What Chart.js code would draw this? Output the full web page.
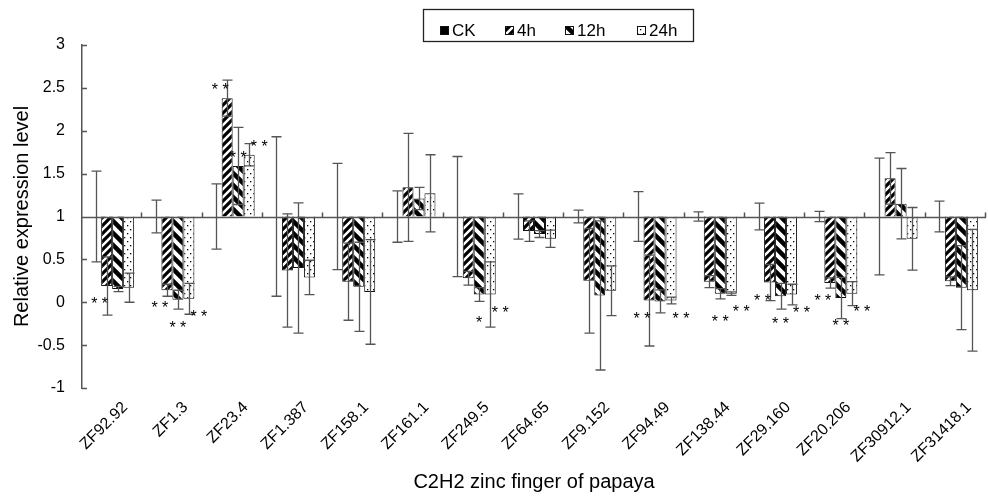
<!DOCTYPE html>
<html>
<head>
<meta charset="utf-8">
<script src="https://cdn.jsdelivr.net/npm/chart.js@4.4.1/dist/chart.umd.min.js"></script>
<style>
  body { margin: 0; background: #fff; }
  #wrap { width: 988px; height: 496px; }
</style>
</head>
<body>
<div id="wrap"><canvas id="chart" width="988" height="496"></canvas></div>
<script>
// genes on the x axis
var genes = ['ZF92.92', 'ZF1.3', 'ZF23.4', 'ZF1.387', 'ZF158.1', 'ZF161.1', 'ZF249.5',
  'ZF64.65', 'ZF9.152', 'ZF94.49', 'ZF138.44', 'ZF29.160', 'ZF20.206', 'ZF30912.1', 'ZF31418.1'];

// relative expression (CK = 1) and standard deviations
var ck    = [1, 1, 1, 1, 1, 1, 1, 1, 1, 1, 1, 1, 1, 1, 1];
var ckSd  = [0.53, 0.19, 0.38, 0.93, 0.62, 0.30, 0.70, 0.265, 0.075, 0.29, 0.055, 0.155, 0.06, 0.68, 0.18];

var h4    = [0.19, 0.14, 2.38, 0.37, 0.24, 1.34, 0.28, 0.83, 0.25, 0.02, 0.24, 0.23, 0.225, 1.445, 0.245];
var h4Sd  = [0.34, 0.07, 0.21, 0.66, 0.45, 0.63, 0.08, 0.12, 0.61, 0.53, 0.07, 0.21, 0.06, 0.30, 0.05];

var h12   = [0.155, 0.03, 1.59, 0.40, 0.18, 1.21, 0.09, 0.795, 0.08, 0.01, 0.10, 0.07, 0.05, 1.15, 0.17];
var h12Sd = [0.03, 0.11, 0.45, 0.76, 0.52, 0.13, 0.08, 0.04, 0.87, 0.135, 0.06, 0.15, 0.24, 0.41, 0.49];

var h24   = [0.17, 0.04, 1.72, 0.29, 0.12, 1.27, 0.09, 0.74, 0.135, 0.02, 0.10, 0.09, 0.10, 0.74, 0.14];
var h24Sd = [0.17, 0.18, 0.13, 0.20, 0.61, 0.45, 0.38, 0.10, 0.29, 0.04, 0.02, 0.12, 0.14, 0.365, 0.71];

// significance marks
var ckStars  = ['', '', '', '', '', '', '', '', '', '', '', '', '', '', ''];
var h4Stars  = ['**', '**', '**', '', '', '', '', '', '', '**', '', '**', '**', '', ''];
var h12Stars = ['', '**', '**', '', '', '', '*', '', '', '', '**', '**', '**', '', ''];
var h24Stars = ['', '**', '**', '', '', '', '**', '', '', '**', '**', '**', '**', '', ''];

var seriesNames = ['CK', '4h', '12h', '24h'];

var FONT = "'Liberation Sans', Arial, sans-serif";
var AXIS = '#555';

var canvas = document.getElementById('chart');
var ctx0 = canvas.getContext('2d');

// fill patterns
function tile(w, h, draw) {
  var c = document.createElement('canvas');
  c.width = w; c.height = h;
  var g = c.getContext('2d');
  g.fillStyle = '#fff';
  g.fillRect(0, 0, w, h);
  draw(g, w, h);
  return ctx0.createPattern(c, 'repeat');
}
var patSolid = '#000';
var patFwd = tile(8, 8, function(g) {   // "/" hatch
  g.strokeStyle = '#000'; g.lineWidth = 3.2;
  g.beginPath();
  g.moveTo(-2, 2); g.lineTo(2, -2);
  g.moveTo(0, 8); g.lineTo(8, 0);
  g.moveTo(6, 10); g.lineTo(10, 6);
  g.stroke();
});
var patBack = tile(12, 12, function(g) {  // "\" hatch, wider
  g.strokeStyle = '#000'; g.lineWidth = 4.5;
  g.beginPath();
  g.moveTo(-3, 9); g.lineTo(3, 15);
  g.moveTo(0, 0); g.lineTo(12, 12);
  g.moveTo(9, -3); g.lineTo(15, 3);
  g.stroke();
});
var patDots = tile(6, 8, function(g) {
  g.fillStyle = '#000';
  g.fillRect(1, 1, 1.3, 1.3);
  g.fillRect(4, 5, 1.3, 1.3);
});
var fills = [patSolid, patFwd, patBack, patDots];

function makeSet(i, data, sd, stars) {
  return {
    label: seriesNames[i],
    data: data,
    sd: sd,
    stars: stars,
    base: 1,
    backgroundColor: fills[i],
    borderColor: '#111',
    borderWidth: 1,
    categoryPercentage: 0.73,
    barPercentage: 1.0
  };
}

// error bars
var errorBars = {
  id: 'errorBars',
  afterDatasetsDraw: function(chart) {
    var ctx = chart.ctx, y = chart.scales.y;
    ctx.save();
    ctx.strokeStyle = AXIS;
    ctx.lineWidth = 1.3;
    chart.data.datasets.forEach(function(ds, i) {
      chart.getDatasetMeta(i).data.forEach(function(bar, j) {
        var v = ds.data[j], s = ds.sd[j];
        var t = y.getPixelForValue(v + s), b = y.getPixelForValue(v - s);
        var x = Math.round(bar.x) + 0.5;
        ctx.beginPath();
        ctx.moveTo(x, t); ctx.lineTo(x, b);
        ctx.moveTo(x - 5, t); ctx.lineTo(x + 5, t);
        ctx.moveTo(x - 5, b); ctx.lineTo(x + 5, b);
        ctx.stroke();
      });
    });
    ctx.restore();
  }
};

// x axis drawn through 1, inner ticks on both axes
var axisLines = {
  id: 'axisLines',
  afterDatasetsDraw: function(chart) {
    var ctx = chart.ctx, a = chart.chartArea, x = chart.scales.x, y = chart.scales.y;
    var y1 = Math.round(y.getPixelForValue(1)) + 0.5;
    ctx.save();
    ctx.strokeStyle = AXIS;
    ctx.lineWidth = 1.5;
    ctx.beginPath();
    ctx.moveTo(a.left, y1); ctx.lineTo(a.right, y1);
    var n = genes.length;
    for (var i = 1; i <= n; i++) {
      var bx = i < n ? (x.getPixelForTick(i - 1) + x.getPixelForTick(i)) / 2 : a.right;
      bx = Math.round(bx) - 0.5;
      ctx.moveTo(bx, y1); ctx.lineTo(bx, y1 - 5);
    }
    y.ticks.forEach(function(t) {
      var py = Math.round(y.getPixelForValue(t.value)) + 0.5;
      ctx.moveTo(a.left, py); ctx.lineTo(a.left + 5, py);
    });
    ctx.stroke();
    ctx.restore();
  }
};

// ** marks next to the bars
var starGap = [0, 14, 24, 14];
var starShift = [0, -7, 0, 10];
var starMarks = {
  id: 'starMarks',
  afterDatasetsDraw: function(chart) {
    var ctx = chart.ctx, y = chart.scales.y;
    ctx.save();
    ctx.fillStyle = '#000';
    ctx.font = '16px ' + FONT;
    ctx.textAlign = 'center';
    ctx.textBaseline = 'alphabetic';
    chart.data.datasets.forEach(function(ds, i) {
      chart.getDatasetMeta(i).data.forEach(function(bar, j) {
        var s = ds.stars[j];
        if (!s) return;
        var txt = s.split('').join(' ');
        var end = y.getPixelForValue(ds.data[j]);
        var py = ds.data[j] < 1 ? end + starGap[i] : end - 12;
        ctx.fillText(txt, bar.x + starShift[i], py + 9);
      });
    });
    ctx.restore();
  }
};

// boxed legend at the top
var boxLegend = {
  id: 'boxLegend',
  afterDraw: function(chart) {
    var ctx = chart.ctx;
    var itemX = [440, 505, 565, 637];
    ctx.save();
    ctx.strokeStyle = '#222';
    ctx.lineWidth = 1.3;
    ctx.strokeRect(423.5, 9.5, 270, 32);
    ctx.font = '17px ' + FONT;
    ctx.textBaseline = 'middle';
    ctx.fillStyle = '#000';
    seriesNames.forEach(function(name, i) {
      ctx.fillStyle = fills[i];
      ctx.fillRect(itemX[i], 26, 9, 9);
      ctx.strokeStyle = '#111';
      ctx.lineWidth = 1;
      ctx.strokeRect(itemX[i] + 0.5, 26.5, 8, 8);
      ctx.fillStyle = '#000';
      ctx.fillText(name, itemX[i] + 12, 31);
    });
    ctx.restore();
  }
};

var chart = new Chart(canvas, {
  type: 'bar',
  data: {
    labels: genes,
    datasets: [
      makeSet(0, ck, ckSd, ckStars),
      makeSet(1, h4, h4Sd, h4Stars),
      makeSet(2, h12, h12Sd, h12Stars),
      makeSet(3, h24, h24Sd, h24Stars)
    ]
  },
  options: {
    responsive: false,
    animation: false,
    devicePixelRatio: 1,
    layout: { padding: { top: 45, right: 2, left: 0, bottom: 0 } },
    plugins: {
      legend: { display: false },
      tooltip: { enabled: false }
    },
    scales: {
      x: {
        offset: true,
        grid: { display: false },
        border: { display: false },
        ticks: {
          color: '#000',
          font: { family: FONT, size: 16 },
          maxRotation: 45,
          minRotation: 45,
          padding: 2,
          labelOffset: 13,
          autoSkip: false
        },
        title: {
          display: true,
          text: 'C2H2 zinc finger of papaya',
          color: '#000',
          font: { family: FONT, size: 20 },
          padding: { top: 4, bottom: 2 }
        },
        afterFit: function(s) { s.height = 108; }
      },
      y: {
        min: -1,
        max: 3,
        grid: { display: false },
        border: { display: true, color: AXIS, width: 1.5 },
        ticks: {
          stepSize: 0.5,
          color: '#000',
          font: { family: FONT, size: 16 },
          padding: 9,
          callback: function(v) { return String(v); }
        },
        title: {
          display: true,
          text: 'Relative expression level',
          color: '#000',
          font: { family: FONT, size: 20 },
          padding: { top: 10, bottom: 0 }
        },
        afterFit: function(s) { s.width = 82; }
      }
    }
  },
  plugins: [errorBars, axisLines, starMarks, boxLegend]
});
</script>
</body>
</html>
